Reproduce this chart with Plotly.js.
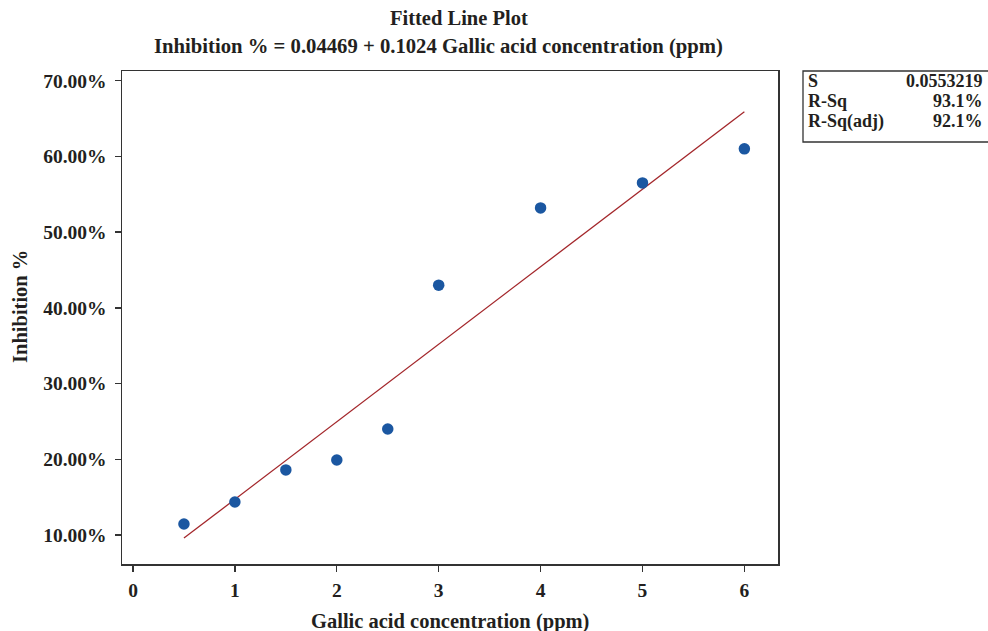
<!DOCTYPE html>
<html>
<head>
<meta charset="utf-8">
<script src="https://cdn.plot.ly/plotly-3.0.1.min.js"></script>
<style>html,body{margin:0;padding:0;background:#fff;}#chart{width:988px;height:631px;}</style>
</head>
<body>
<div id="chart"></div>
<script>
// Observed data (Gallic acid concentration, ppm vs inhibition fraction)
const concentration = [0.5, 1, 1.5, 2, 2.5, 3, 4, 5, 6];
const inhibition = [0.1145, 0.1436, 0.186, 0.199, 0.240, 0.430, 0.532, 0.565, 0.610];
// Fitted regression line endpoints
const fitX = [0.5, 6];
const fitY = [0.0959, 0.6591];
// Tick labels
const xTicks = [0, 1, 2, 3, 4, 5, 6];
const yTicks = [0.1, 0.2, 0.3, 0.4, 0.5, 0.6, 0.7];
const yTickText = ['10.00%', '20.00%', '30.00%', '40.00%', '50.00%', '60.00%', '70.00%'];
// Stats box
const statNames = ['S', 'R-Sq', 'R-Sq(adj)'];
const statValues = ['0.0553219', '93.1%', '92.1%'];

const FONT = 'Liberation Serif, Times New Roman, serif';
const INK = '#231f20';
const STAT_SIZE = 18;
const STAT_PITCH = 20.5; // px between stats rows

const traces = [
  {
    x: fitX, y: fitY, mode: 'lines', type: 'scatter',
    line: {color: '#a3262a', width: 1.3}, hoverinfo: 'skip', showlegend: false
  },
  {
    x: concentration, y: inhibition, mode: 'markers', type: 'scatter',
    marker: {color: '#1b57a1', size: 11.5}, showlegend: false
  }
];

const PW = 656, PH = 493, PL = 122, PB = 564;
const px = v => (v - PL) / PW;
const py = v => (PB - v) / PH;

const annotations = [];
statNames.forEach((n, i) => {
  const yc = 101 + (i - 1) * STAT_PITCH;
  annotations.push({
    xref: 'paper', yref: 'paper', x: px(807), y: py(yc), xanchor: 'left', yanchor: 'middle',
    text: '<b>' + n + '</b>', showarrow: false, borderpad: 0,
    font: {family: FONT, size: STAT_SIZE, color: INK}
  });
  annotations.push({
    xref: 'paper', yref: 'paper', x: px(984), y: py(yc), xanchor: 'right', yanchor: 'middle',
    text: '<b>' + statValues[i] + '</b>', showarrow: false, borderpad: 0,
    font: {family: FONT, size: STAT_SIZE, color: INK}
  });
});
annotations.push(
  {
    xref: 'paper', yref: 'paper', x: px(459), y: py(18), xanchor: 'center', yanchor: 'middle',
    text: '<b>Fitted Line Plot</b>', showarrow: false, font: {family: FONT, size: 20.5, color: INK}
  },
  {
    xref: 'paper', yref: 'paper', x: px(438), y: py(47), xanchor: 'center', yanchor: 'middle',
    text: '<b>Inhibition % = 0.04469 + 0.1024 Gallic acid concentration (ppm)</b>', showarrow: false,
    font: {family: FONT, size: 20.7, color: INK}
  },
  {
    xref: 'paper', yref: 'paper', x: px(20), y: py(307), xanchor: 'center', yanchor: 'middle', textangle: -90,
    text: '<b>Inhibition %</b>', showarrow: false, font: {family: FONT, size: 20.5, color: INK}
  },
  {
    xref: 'paper', yref: 'paper', x: 0.5, y: py(621), xanchor: 'center', yanchor: 'middle',
    text: '<b>Gallic acid concentration (ppm)</b>', showarrow: false, font: {family: FONT, size: 20.5, color: INK}
  }
);

const layout = {
  width: 988, height: 631,
  margin: {l: 122, r: 210, t: 71, b: 67},
  paper_bgcolor: '#fff', plot_bgcolor: '#fff',
  font: {family: FONT, color: INK},
  xaxis: {
    range: [-0.108, 6.33], tickvals: xTicks, ticktext: xTicks.map(v => '<b>' + v + '</b>'),
    ticks: 'outside', ticklen: 6, tickwidth: 1.3, tickcolor: '#333', ticklabelstandoff: 2,
    showline: true, linecolor: '#333', linewidth: 1.5, mirror: true, showgrid: false, zeroline: false,
    tickfont: {family: FONT, size: 19.5, color: INK}
  },
  yaxis: {
    range: [0.0617, 0.7128], tickvals: yTicks, ticktext: yTickText.map(t => '<b>' + t + '</b>'),
    ticks: 'outside', ticklen: 6, tickwidth: 1.3, tickcolor: '#333', ticklabelstandoff: 4,
    showline: true, linecolor: '#333', linewidth: 1.5, mirror: true, showgrid: false, zeroline: false,
    tickfont: {family: FONT, size: 19.5, color: INK}
  },
  shapes: [{
    type: 'rect', xref: 'paper', yref: 'paper',
    x0: px(803), x1: px(995), y0: py(142), y1: py(71),
    line: {color: '#333', width: 1.3}, fillcolor: 'rgba(0,0,0,0)'
  }],
  annotations: annotations,
  showlegend: false
};

Plotly.newPlot('chart', traces, layout, {displayModeBar: false, staticPlot: true});
</script>
</body>
</html>
